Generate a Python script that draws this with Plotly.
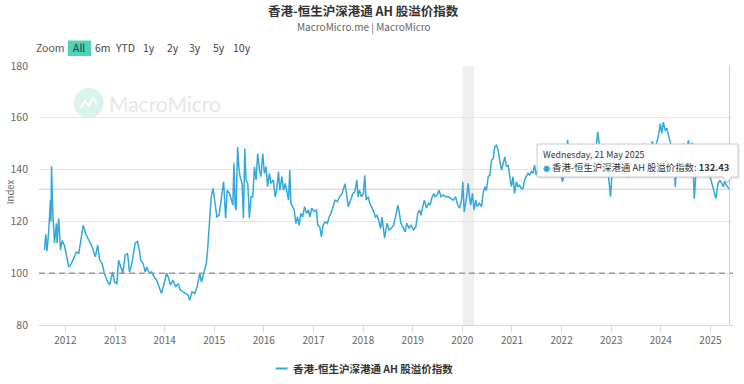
import plotly.graph_objects as go
import pandas as pd

# ---------------- data ----------------
dates = [
    "2011-08-01", "2011-08-10", "2011-08-19", "2011-09-01", "2011-09-13", "2011-09-17", "2011-09-21",
    "2011-10-01", "2011-10-13", "2011-10-27", "2011-11-01", "2011-11-13", "2011-11-26", "2011-12-08",
    "2011-12-26", "2012-01-06", "2012-01-26", "2012-02-12", "2012-03-04", "2012-03-23", "2012-04-09",
    "2012-04-22", "2012-05-11", "2012-05-28", "2012-06-22", "2012-07-16", "2012-08-09", "2012-08-26",
    "2012-09-10", "2012-09-27", "2012-10-14", "2012-11-02", "2012-11-22", "2012-12-14", "2012-12-28",
    "2013-01-14", "2013-01-27", "2013-02-13", "2013-02-27", "2013-03-17", "2013-04-03", "2013-04-17",
    "2013-05-04", "2013-05-29", "2013-06-15", "2013-06-29", "2013-07-09", "2013-07-28", "2013-08-10",
    "2013-08-22", "2013-09-10", "2013-09-27", "2013-10-15", "2013-11-03", "2013-11-23", "2013-12-09",
    "2013-12-29", "2014-01-15", "2014-01-27", "2014-02-13", "2014-03-04", "2014-03-24", "2014-04-10",
    "2014-04-27", "2014-05-17", "2014-06-06", "2014-06-23", "2014-07-05", "2014-07-22", "2014-08-11",
    "2014-08-28", "2014-09-17", "2014-09-28", "2014-10-11", "2014-10-25", "2014-11-04", "2014-11-13",
    "2014-11-20", "2014-11-29", "2014-12-10", "2014-12-23",
    "2015-01-04", "2015-01-21", "2015-02-05", "2015-02-22", "2015-03-11", "2015-03-26", "2015-04-07",
    "2015-04-24", "2015-05-06", "2015-05-18", "2015-05-26", "2015-06-04", "2015-06-11", "2015-06-22",
    "2015-07-01", "2015-07-10", "2015-07-25", "2015-08-04", "2015-08-14", "2015-08-23", "2015-09-05",
    "2015-09-17", "2015-09-29", "2015-10-12", "2015-10-24", "2015-11-05", "2015-11-17", "2015-11-30",
    "2015-12-11", "2015-12-24",
    "2016-01-05", "2016-01-17", "2016-01-29", "2016-02-11", "2016-02-22", "2016-03-11", "2016-03-25",
    "2016-04-04", "2016-04-18", "2016-04-28", "2016-05-13", "2016-05-25", "2016-06-07", "2016-06-24",
    "2016-07-01", "2016-07-10", "2016-07-18", "2016-07-30", "2016-08-12", "2016-08-24", "2016-09-05",
    "2016-09-18", "2016-09-29", "2016-10-12", "2016-10-27", "2016-11-10", "2016-11-25", "2016-12-04",
    "2016-12-19",
    "2017-01-06", "2017-01-23", "2017-02-01", "2017-02-16", "2017-02-28", "2017-03-12", "2017-03-27",
    "2017-04-13", "2017-04-26", "2017-05-10", "2017-05-25", "2017-06-08", "2017-06-25", "2017-07-12",
    "2017-07-31", "2017-08-20", "2017-09-01", "2017-09-13", "2017-09-30", "2017-10-18", "2017-11-01",
    "2017-11-16", "2017-11-25", "2017-12-05", "2017-12-19",
    "2018-01-03", "2018-01-13", "2018-01-23", "2018-02-07", "2018-02-19", "2018-03-03", "2018-03-20",
    "2018-04-01", "2018-04-13", "2018-04-26", "2018-05-10", "2018-05-20", "2018-06-01", "2018-06-08",
    "2018-06-26", "2018-07-12", "2018-07-27", "2018-08-13", "2018-08-30", "2018-09-14", "2018-09-23",
    "2018-10-06", "2018-10-20", "2018-11-06", "2018-11-19", "2018-12-05", "2018-12-20",
    "2019-01-07", "2019-01-24", "2019-02-07", "2019-02-20", "2019-03-03", "2019-03-16", "2019-03-28",
    "2019-04-12", "2019-04-27", "2019-05-09", "2019-05-21", "2019-06-05", "2019-06-14", "2019-06-29",
    "2019-07-14", "2019-07-28", "2019-08-15", "2019-09-01", "2019-09-20", "2019-10-07", "2019-10-27",
    "2019-11-13", "2019-11-28", "2019-12-12", "2019-12-27",
    "2020-01-05", "2020-01-15", "2020-01-30", "2020-02-14", "2020-02-23", "2020-03-03", "2020-03-16",
    "2020-03-28", "2020-04-09", "2020-04-21", "2020-05-06", "2020-05-21", "2020-06-03", "2020-06-15",
    "2020-06-27", "2020-07-10", "2020-07-22", "2020-08-03", "2020-08-16", "2020-08-27", "2020-09-09",
    "2020-09-21", "2020-10-03", "2020-10-16", "2020-10-28", "2020-11-09", "2020-11-21", "2020-12-04",
    "2020-12-16", "2020-12-28",
    "2021-01-09", "2021-01-20", "2021-02-02", "2021-02-14", "2021-02-26", "2021-03-10", "2021-03-23",
    "2021-04-04", "2021-04-16", "2021-04-29", "2021-05-10", "2021-05-23", "2021-06-04", "2021-06-16",
    "2021-06-28", "2021-07-10", "2021-07-25", "2021-08-08", "2021-08-22", "2021-09-05", "2021-09-20",
    "2021-10-04", "2021-10-18", "2021-11-01", "2021-11-15", "2021-11-29", "2021-12-13", "2021-12-27",
    "2022-01-09", "2022-01-25", "2022-02-15", "2022-02-25", "2022-03-10", "2022-03-25", "2022-04-10",
    "2022-04-25", "2022-05-10", "2022-05-25", "2022-06-10", "2022-06-25", "2022-07-10", "2022-07-25",
    "2022-08-10", "2022-08-25", "2022-09-10", "2022-09-24", "2022-10-05", "2022-10-15", "2022-10-28",
    "2022-11-10", "2022-11-22", "2022-12-05", "2022-12-28",
    "2023-01-08", "2023-01-22", "2023-02-05", "2023-02-20", "2023-03-05", "2023-03-20", "2023-04-05",
    "2023-04-20", "2023-05-02", "2023-05-11", "2023-05-22", "2023-06-08", "2023-06-22", "2023-07-08",
    "2023-07-22", "2023-08-08", "2023-08-28", "2023-09-10", "2023-09-25", "2023-10-10", "2023-10-31",
    "2023-11-15", "2023-11-30", "2023-12-15", "2023-12-29",
    "2024-01-08", "2024-01-20", "2024-02-04", "2024-02-15", "2024-02-28", "2024-03-12", "2024-03-28",
    "2024-04-08", "2024-04-17", "2024-04-28", "2024-05-12", "2024-05-28", "2024-06-17", "2024-07-02",
    "2024-07-23", "2024-08-05", "2024-08-20", "2024-09-04", "2024-09-18", "2024-10-02", "2024-10-15",
    "2024-11-01", "2024-11-18", "2024-12-05", "2024-12-18", "2024-12-30",
    "2025-01-12", "2025-01-23", "2025-02-10", "2025-02-25", "2025-03-13", "2025-04-07", "2025-04-14",
    "2025-04-28", "2025-05-21",
]

values = [
    108.9, 115.0, 108.5, 116.6, 128.2, 120.0, 141.3,
    123.0, 111.6, 119.3, 111.6, 121.2, 108.9, 112.6,
    110.6, 107.7, 102.4, 103.5, 106.3, 108.2, 107.7,
    112.7, 118.5, 115.4, 112.7, 110.2, 106.3, 110.8,
    105.0, 103.8, 100.0, 97.3, 95.4, 100.5, 96.6,
    96.0, 105.0, 102.4, 100.0, 107.0, 107.7, 100.5,
    103.5, 111.6, 112.2, 108.9, 105.0, 103.5, 100.5,
    102.4, 100.0, 100.5, 98.6, 97.3, 94.7, 92.2,
    96.0, 100.0, 98.6, 95.4, 97.3, 94.7, 96.0,
    93.4, 92.8, 92.2, 91.5, 89.6, 92.8, 92.2,
    94.7, 100.0, 96.6, 99.0, 102.4, 103.8, 108.9,
    115.4, 119.3, 129.5, 132.7,
    128.2, 121.7, 122.3, 128.2, 135.3, 121.2, 132.0,
    130.8, 128.2, 126.3, 142.4, 125.7, 124.4, 148.8,
    141.1, 137.3, 134.7, 121.2, 148.1, 136.0, 134.7,
    121.2, 129.5, 129.5, 141.1, 136.0, 146.2, 139.8,
    137.3, 146.2,
    138.6, 141.1, 133.4, 138.6, 134.7, 136.0, 129.5,
    132.0, 139.2, 132.0, 137.3, 132.0, 134.7, 130.8,
    128.2, 139.8, 127.0, 125.7, 124.4, 119.2, 121.7,
    118.5, 123.1, 121.7, 125.7, 123.1, 124.4, 121.7,
    125.1,
    123.8, 124.4, 118.5, 117.9, 114.0, 118.5, 119.8,
    119.2, 121.7, 123.1, 125.7, 128.2, 127.6, 129.5,
    130.8, 134.6, 130.8, 125.7, 128.2, 130.8, 131.4,
    135.9, 129.5, 132.0, 129.5,
    130.8, 137.8, 128.2, 129.5, 127.0, 125.7, 123.8,
    121.7, 122.3, 120.4, 117.2, 121.7, 116.0, 113.5,
    119.3, 116.7, 117.3, 118.5, 122.3, 126.3, 123.8,
    119.3, 117.9, 116.0, 119.3, 117.3, 118.5,
    116.7, 117.9, 123.1, 124.4, 122.3, 125.7, 128.2,
    125.1, 127.0, 126.3, 128.9, 130.8, 129.5, 130.2,
    132.0, 129.5, 130.2, 129.5, 129.5, 128.9, 128.2,
    129.5, 126.3, 125.1, 128.2,
    135.3, 123.7, 128.2, 134.7, 129.5, 126.3, 130.8,
    124.4, 128.2, 125.7, 127.0, 125.7, 130.8, 133.4,
    132.0, 137.3, 137.9, 143.6, 144.3, 148.8, 149.4,
    147.5, 143.6, 139.8, 142.3, 144.9, 141.1, 141.7,
    137.3, 133.4,
    137.3, 130.8, 135.3, 133.4, 134.0, 132.7, 132.7,
    136.0, 137.3, 138.6, 137.9, 139.2, 138.6, 141.7,
    137.9, 140.5, 143.0, 139.0, 142.0, 140.0, 144.0,
    141.0, 138.5, 142.0, 139.5, 143.0, 140.0, 137.0,
    135.3, 142.0, 151.5, 143.0, 146.0, 142.0, 144.0,
    141.0, 145.0, 143.0, 146.0, 142.0, 144.0, 147.0,
    145.0, 148.0, 147.0, 154.6, 150.0, 146.0, 148.0,
    144.0, 145.0, 141.0, 129.5,
    140.0, 143.0, 141.0, 144.0, 142.0, 145.0, 142.0,
    144.0, 141.0, 137.0, 142.0, 145.0, 143.0, 146.0,
    144.0, 147.0, 150.0, 146.0, 148.0, 146.0, 151.0,
    148.0, 150.0, 153.0, 157.8,
    154.0, 158.3, 155.0, 156.0, 153.0, 150.0, 147.0,
    145.0, 133.3, 143.0, 146.0, 144.0, 150.0, 146.0,
    151.3, 148.0, 150.5, 128.8, 140.0, 138.0, 143.0,
    141.0, 144.0, 142.0, 140.0, 137.2,
    134.5, 132.0, 128.8, 134.5, 135.9, 133.3, 135.5,
    134.0, 132.43,
]

series_name = "香港-恒生沪深港通 AH 股溢价指数"
y_ticks = [80, 100, 120, 140, 160, 180]
range_buttons = ["6m", "YTD", "1y", "2y", "3y", "5y", "10y"]
shade_start, shade_end = "2020-01-03", "2020-03-28"
baseline = 100

# ---------------- layout helpers (pixel -> paper) ----------------
L, R, T, B = 35, 11, 66, 59
W, H = 744, 384
PW, PH = W - L - R, H - T - B


def PX(x):
    return (x - L) / PW


def PY(y):
    return (H - B - y) / PH


FONT = "Noto Sans CJK SC, Noto Sans, sans-serif"
LINE_C = "#33a8dc"

fig = go.Figure()
fig.add_trace(go.Scatter(
    x=dates, y=values, mode="lines", name=series_name,
    line=dict(color=LINE_C, width=1.5), showlegend=False,
    hoverinfo="skip",
))

shapes = []
# shaded band
shapes.append(dict(type="rect", xref="x", yref="paper", x0=shade_start, x1=shade_end,
                   y0=0, y1=1, fillcolor="#efefef", line=dict(width=0), layer="below"))
# dashed baseline
shapes.append(dict(type="line", xref="paper", yref="y", x0=0, x1=1, y0=baseline, y1=baseline,
                   line=dict(color="#999999", width=1.5, dash="6px,4px"), layer="above"))
# crosshairs
shapes.append(dict(type="line", xref="x", yref="paper", x0=dates[-1], x1=dates[-1], y0=0, y1=1,
                   line=dict(color="#cccccc", width=1)))
shapes.append(dict(type="line", xref="paper", yref="y", x0=0, x1=1, y0=values[-1], y1=values[-1],
                   line=dict(color="#cccccc", width=1), layer="below"))
# "All" active button
shapes.append(dict(type="rect", xref="paper", yref="paper", x0=PX(64), x1=PX(87.5),
                   y0=PY(56), y1=PY(40.5), fillcolor="#4fd3b5", line=dict(width=0)))
# watermark icon
shapes.append(dict(type="circle", xref="paper", yref="paper", x0=PX(70), x1=PX(100),
                   y0=PY(118), y1=PY(88), fillcolor="#d9f4ed", line=dict(width=0), layer="below"))
zig = [(77, 108), (81, 101), (85, 106), (89, 98), (94, 104)]
shapes.append(dict(type="path", xref="paper", yref="paper",
                   path="M " + " L ".join(f"{PX(a)},{PY(b)}" for a, b in zig),
                   line=dict(color="white", width=2), layer="below"))
# legend symbol
shapes.append(dict(type="line", xref="paper", yref="paper", x0=PX(273), x1=PX(285),
                   y0=PY(368.5), y1=PY(368.5), line=dict(color=LINE_C, width=2)))


# tooltip (shadow + box with callout)
def tip_path(dx=0, dy=0):
    pts = [(536, 144), (738, 144), (738, 177), (731, 177), (727, 183), (723, 177), (536, 177)]
    return "M " + " L ".join(f"{PX(a + dx)},{PY(b + dy)}" for a, b in pts) + " Z"


shapes.append(dict(type="path", xref="paper", yref="paper", path=tip_path(1.5, 1.5),
                   fillcolor="rgba(0,0,0,0.10)", line=dict(width=0)))
shapes.append(dict(type="path", xref="paper", yref="paper", path=tip_path(),
                   fillcolor="rgba(255,255,255,0.97)", line=dict(color="#c8c8c8", width=1)))

ann = []


def txt(x, y, text, size, color="#333333", xanchor="center", bold=False, **kw):
    if bold:
        text = f"<b>{text}</b>"
    ann.append(dict(xref="paper", yref="paper", x=PX(x), y=PY(y), text=text, showarrow=False,
                    xanchor=xanchor, yanchor="middle", font=dict(size=size, color=color, family=FONT), **kw))


txt(361, 10, series_name, 12.5, "#333333", bold=True)
txt(361.5, 26, "MacroMicro.me | MacroMicro", 10, "#666666")
txt(47, 48, "Zoom", 10.5, "#555555")
txt(75.7, 48, "All", 10.5, "#333333")
for lab, cx in zip(range_buttons, [99, 121.7, 145.7, 169.3, 192.3, 216, 239.3]):
    txt(cx, 48, lab, 10.5, "#444444")
# watermark text
ann.append(dict(xref="paper", yref="paper", x=PX(103), y=PY(103), text="MacroMicro", showarrow=False,
                xanchor="left", yanchor="middle", font=dict(size=21, color="#e6e6e6", family="Lato, sans-serif")))
# y axis title (at the left edge)
ann.append(dict(xref="paper", yref="paper", x=PX(6), y=PY(192), text="Index", showarrow=False,
                textangle=-90, xanchor="center", yanchor="middle",
                font=dict(size=9.5, color="#666666", family=FONT)))
# legend text
txt(288.5, 368.5, series_name, 10.5, "#333333", xanchor="left", bold=True)
# tooltip text
last = pd.Timestamp(dates[-1])
tip_date = f"{last.strftime('%A')}, {last.day} {last.strftime('%B %Y')}"
txt(540, 154.5, tip_date, 8.8, "#333333", xanchor="left")
txt(539.5, 166.5, f"<span style='color:{LINE_C};font-size:7px'>●</span> {series_name}: <b>{values[-1]:.2f}</b>",
    9.4, "#333333", xanchor="left")

fig.update_layout(
    width=W, height=H, autosize=False,
    margin=dict(l=L, r=R, t=T, b=B, pad=0),
    paper_bgcolor="white", plot_bgcolor="white",
    font=dict(family=FONT, size=10, color="#666666"),
    shapes=shapes, annotations=ann,
    xaxis=dict(type="date", range=["2011-06-21", "2025-06-16"],
               tick0="2012-01-01", dtick="M12", tickformat="%Y",
               showgrid=False, showline=True, linecolor="#d8d8d8", linewidth=1,
               ticks="outside", ticklen=6, tickcolor="#d8d8d8",
               tickfont=dict(size=10, color="#666666", family=FONT), zeroline=False),
    yaxis=dict(range=[80, 180], tickvals=y_ticks, showgrid=True, gridcolor="#e6e6e6",
               gridwidth=1, zeroline=False, showline=False, ticks="",
               ticklabelstandoff=10,
               tickfont=dict(size=10.5, color="#666666", family=FONT)),
    showlegend=False,
)

fig.write_html("out.html", config={"displayModeBar": False},
               post_script="document.body.style.margin='0px';")
